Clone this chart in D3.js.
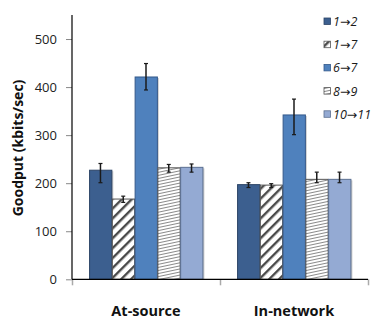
<!DOCTYPE html>
<html>
<head>
<meta charset="utf-8">
<script src="https://cdn.jsdelivr.net/npm/d3@7"></script>
<style>
  html, body { margin: 0; padding: 0; background: #fff; }
  svg { display: block; }
</style>
</head>
<body>
<svg id="chart" width="380" height="320"></svg>
<script>
// Goodput per flow, grouped by where coding happens
const categories = ["At-source", "In-network"];
const seriesNames = ["1\u21922", "1\u21927", "6\u21927", "8\u21929", "10\u219211"];
// mean goodput (kbits/sec), one array per category, ordered as seriesNames
const atSource  = [227, 167, 421, 232, 233];
const inNetwork = [197, 196, 342, 208, 208];
// error bar bounds (low, high)
const atSourceLow   = [201, 160, 394, 223, 223];
const atSourceHigh  = [241, 173, 449, 239, 240];
const inNetworkLow  = [191, 191, 301, 201, 201];
const inNetworkHigh = [201, 199, 375, 223, 223];
const yTicks = [0, 100, 200, 300, 400, 500];

const means = [atSource, inNetwork];
const lows = [atSourceLow, inNetworkLow];
const highs = [atSourceHigh, inNetworkHigh];

const fills = ["#3c5f8f", "url(#hatchWide)", "#4f81bd", "url(#hatchFine)", "#94aad3"];
const strokes = ["#2c4466", "#555", "#34598a", "#555", "#5b6f91"];

const svg = d3.select("#chart");
const defs = svg.append("defs");

// wide diagonal hatch for 1→7
const pw = defs.append("pattern").attr("id", "hatchWide")
  .attr("patternUnits", "userSpaceOnUse").attr("width", 7).attr("height", 7)
  .attr("patternTransform", "rotate(45)");
pw.append("rect").attr("width", 7).attr("height", 7).attr("fill", "#fff");
pw.append("rect").attr("x", 0).attr("width", 2.4).attr("height", 7).attr("fill", "#4a4a4a");

// fine, shallow hatch for 8→9
const pf = defs.append("pattern").attr("id", "hatchFine")
  .attr("patternUnits", "userSpaceOnUse").attr("width", 3).attr("height", 3)
  .attr("patternTransform", "rotate(-12)");
pf.append("rect").attr("width", 3).attr("height", 3).attr("fill", "#fff");
pf.append("rect").attr("y", 0).attr("width", 3).attr("height", 1).attr("fill", "#8a8a8a");

const plotLeft = 72, plotRight = 368, plotTop = 15, plotBottom = 279.3;

const x0 = d3.scaleBand().domain(categories).range([plotLeft, plotRight]).padding(0);
const x1 = d3.scaleBand().domain(seriesNames).range([0, x0.bandwidth()])
  .paddingInner(0).paddingOuter(0.75);
const y = d3.scaleLinear().domain([0, 550]).range([plotBottom, plotTop]);

// y axis
const yAxis = svg.append("g").attr("transform", `translate(${plotLeft},0)`)
  .call(d3.axisLeft(y).tickValues(yTicks).tickSize(6).tickPadding(9));
yAxis.select(".domain").remove();
yAxis.selectAll(".tick line").attr("stroke", "#888");
yAxis.selectAll(".tick text")
  .attr("font-family", "Open Sans, sans-serif").attr("font-size", 13).attr("fill", "#222");
svg.append("line").attr("x1", plotLeft).attr("x2", plotLeft).attr("y1", plotTop).attr("y2", plotBottom)
  .attr("stroke", "#000").attr("stroke-width", 1.2);

// x axis ticks at category boundaries
const xAxisG = svg.append("g").attr("transform", `translate(0,${plotBottom})`);
const boundaries = [plotLeft, ...categories.map(c => x0(c) + x0.bandwidth())];
xAxisG.selectAll("line.tk").data(boundaries).join("line").attr("class", "tk")
  .attr("x1", d => d + 0.5).attr("x2", d => d + 0.5).attr("y1", 0).attr("y2", 6)
  .attr("stroke", "#aaa").attr("stroke-width", 1.5);

// bars
const groups = svg.append("g").selectAll("g").data(categories).join("g")
  .attr("transform", c => `translate(${x0(c)},0)`);

groups.each(function(c, ci) {
  const g = d3.select(this);
  const rows = seriesNames.map((s, si) => ({ s, si, v: means[ci][si], lo: lows[ci][si], hi: highs[ci][si] }));
  // soft shadow
  g.selectAll("rect.sh").data(rows).join("rect").attr("class", "sh")
    .attr("x", d => x1(d.s) + 1.5).attr("y", d => y(d.v) + 1)
    .attr("width", x1.bandwidth()).attr("height", d => plotBottom - y(d.v) - 1)
    .attr("fill", "#bbb").attr("opacity", 0.7);
  g.selectAll("rect.bar").data(rows).join("rect").attr("class", "bar")
    .attr("x", d => x1(d.s) + 0.5).attr("y", d => y(d.v))
    .attr("width", x1.bandwidth() - 0.5).attr("height", d => plotBottom - y(d.v))
    .attr("fill", d => fills[d.si]).attr("stroke", d => strokes[d.si]).attr("stroke-width", 1);
  // error bars
  const eb = g.selectAll("g.err").data(rows).join("g").attr("class", "err")
    .attr("transform", d => `translate(${x1(d.s) + x1.bandwidth() / 2},0)`);
  eb.append("line").attr("y1", d => y(d.lo)).attr("y2", d => y(d.hi))
    .attr("stroke", "#1a1a1a").attr("stroke-width", 1.5);
  eb.append("line").attr("x1", -2).attr("x2", 2).attr("y1", d => y(d.lo)).attr("y2", d => y(d.lo))
    .attr("stroke", "#1a1a1a").attr("stroke-width", 1.2);
  eb.append("line").attr("x1", -2).attr("x2", 2).attr("y1", d => y(d.hi)).attr("y2", d => y(d.hi))
    .attr("stroke", "#1a1a1a").attr("stroke-width", 1.2);
});

svg.append("line").attr("x1", plotLeft).attr("x2", plotRight).attr("y1", plotBottom).attr("y2", plotBottom)
  .attr("stroke", "#000").attr("stroke-width", 1.2);

// category labels
svg.append("g").selectAll("text").data(categories).join("text")
  .attr("x", c => x0(c) + x0.bandwidth() / 2).attr("y", 316)
  .attr("text-anchor", "middle")
  .attr("font-family", "Open Sans, sans-serif").attr("font-weight", "bold").attr("font-size", 14.5)
  .attr("fill", "#111").text(c => c);

// y title
svg.append("text").attr("transform", "translate(23,148) rotate(-90)")
  .attr("text-anchor", "middle")
  .attr("font-family", "Open Sans, sans-serif").attr("font-weight", "bold").attr("font-size", 14)
  .attr("fill", "#111").text("Goodput (kbits/sec)");

// legend (arrow glyph set in DejaVu Sans, which carries a full-size arrow)
const legend = svg.append("g").selectAll("g").data(seriesNames).join("g")
  .attr("transform", (s, i) => `translate(324,${21.5 + i * 23.2})`);
legend.append("rect").attr("x", 0).attr("y", -3.5).attr("width", 6.5).attr("height", 6.5)
  .attr("fill", (s, i) => fills[i]).attr("stroke", (s, i) => strokes[i]).attr("stroke-width", 0.8);
const lt = legend.append("text").attr("x", 9).attr("y", 0).attr("dy", "0.36em")
  .attr("font-family", "Open Sans, sans-serif").attr("font-style", "italic").attr("font-size", 12.5)
  .attr("fill", "#1a1a1a");
lt.each(function(s) {
  const [a, b] = s.split("\u2192");
  const t = d3.select(this);
  t.append("tspan").text(a);
  t.append("tspan").attr("font-family", "DejaVu Sans, sans-serif").attr("font-style", "normal")
    .attr("font-size", 12.5).text("\u2192");
  t.append("tspan").text(b);
});
</script>
</body>
</html>
